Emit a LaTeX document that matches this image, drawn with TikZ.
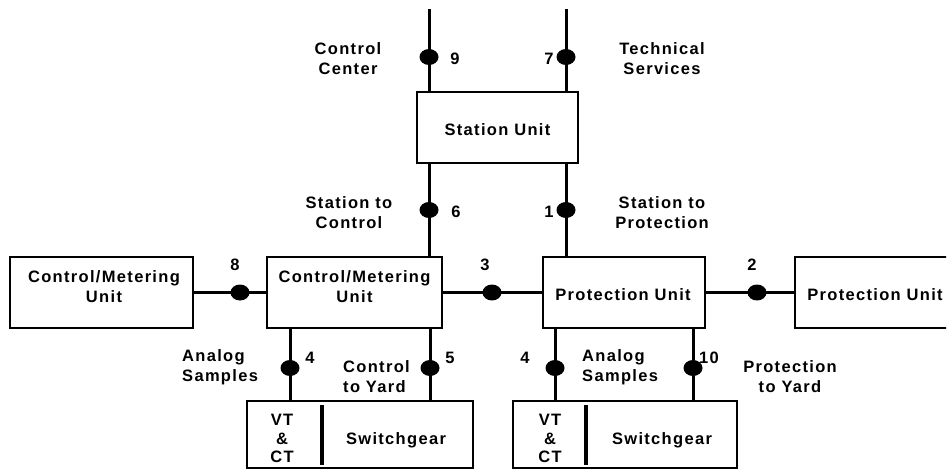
\documentclass[tikz,border=0pt]{standalone}
\usepackage{fontspec}
\setmainfont{Liberation Sans}[LetterSpace=8]
\usetikzlibrary{shapes.geometric}
\begin{document}
\begin{tikzpicture}[x=1pt,y=-1pt,
  box/.style={draw,line width=1.2pt,rectangle,inner sep=0pt},
  dot/.style={ellipse,fill=black,inner sep=0pt,minimum width=19pt,minimum height=16pt},
  wire/.style={line width=3pt},
  divider/.style={line width=4pt},
  txt/.style={font=\fontsize{16.5}{20}\selectfont\bfseries,inner sep=0pt,align=center},
  txtl/.style={font=\fontsize{16.5}{20}\selectfont\bfseries,inner sep=0pt,align=left,anchor=west},
  num/.style={font=\fontsize{16.5}{20}\selectfont\bfseries,inner sep=0pt}]
\useasboundingbox (0,0) rectangle (949,470);
\clip (0,0) rectangle (946,470);
% boxes
\node[box,minimum width=161pt,minimum height=71pt] (station) at (497.5,127.5) {};
\node[box,minimum width=183pt,minimum height=71pt] (cmL) at (101.5,292.5) {};
\node[box,minimum width=175pt,minimum height=71pt] (cmM) at (354.5,292.5) {};
\node[box,minimum width=162pt,minimum height=71pt] (protM) at (624,292.5) {};
\node[box,minimum width=180pt,minimum height=71pt] (protR) at (885,292.5) {};
\node[box,minimum width=226pt,minimum height=67pt] (sgL) at (360,434.5) {};
\node[box,minimum width=224pt,minimum height=67pt] (sgR) at (625,434.5) {};
% box texts
\node[txt] (tstation) at (497.5,130) {Station Unit};
\node[txt] (tcmL) at (104,286.5) {Control/Metering\\Unit};
\node[txt] (tcmM) at (354.5,286.5) {Control/Metering\\Unit};
\node[txt] (tprotM) at (623,294.5) {Protection Unit};
\node[txt] (tprotR) at (875,294.5) {Protection Unit};
\node[txt,font=\fontsize{16.5}{18.5}\selectfont\bfseries] (vtL) at (282,438.5) {VT\\\&\\CT};
\node[txt] (swL) at (396,440) {Switchgear};
\node[txt,font=\fontsize{16.5}{18.5}\selectfont\bfseries] (vtR) at (550,438.5) {VT\\\&\\CT};
\node[txt] (swR) at (662,440) {Switchgear};
\coordinate (dvLt) at (322,405); \coordinate (dvLb) at (322,465);
\coordinate (dvRt) at (586,405); \coordinate (dvRb) at (586,465);
\draw[divider] (dvLt) -- (dvLb);
\draw[divider] (dvRt) -- (dvRb);
% free ends
\coordinate (t9) at (429,9);
\coordinate (t7) at (566,9);
\coordinate (xa) at (290,0);
\coordinate (xb) at (430,0);
\coordinate (xc) at (555,0);
\coordinate (xd) at (693,0);
% wires
\draw[wire] (t9) -- (t9 |- station.north);
\draw[wire] (t7) -- (t7 |- station.north);
\draw[wire] (t9 |- station.south) -- (t9 |- cmM.north);
\draw[wire] (t7 |- station.south) -- (t7 |- protM.north);
\draw[wire] (cmL.east) -- (cmM.west);
\draw[wire] (cmM.east) -- (protM.west);
\draw[wire] (protM.east) -- (protR.west);
\draw[wire] (xa |- cmM.south) -- (xa |- sgL.north);
\draw[wire] (xb |- cmM.south) -- (xb |- sgL.north);
\draw[wire] (xc |- protM.south) -- (xc |- sgR.north);
\draw[wire] (xd |- protM.south) -- (xd |- sgR.north);
% dots
\node[dot] (d9) at (429,57) {};
\node[dot] (d7) at (566,57) {};
\node[dot] (d6) at (429,210) {};
\node[dot] (d1) at (566,210) {};
\node[dot] (d8) at (240,292.5) {};
\node[dot] (d3) at (492,292.5) {};
\node[dot] (d2) at (757,292.5) {};
\node[dot] (d4a) at (290,368) {};
\node[dot] (d5) at (430,368) {};
\node[dot] (d4b) at (555,368) {};
\node[dot] (d10) at (693,368) {};
% labels
\node[txt] (lcc) at (348,59) {Control\\Center};
\node[num] (n9) at (455,59) {9};
\node[num] (n7) at (549,59) {7};
\node[txt] (lts) at (662,59) {Technical\\Services};
\node[txt] (lsc) at (349,213) {Station to\\Control};
\node[num] (n6) at (456,212) {6};
\node[num] (n1) at (549,212) {1};
\node[txt] (lsp) at (662,213) {Station to\\Protection};
\node[num] (n8) at (235,265) {8};
\node[num] (n3) at (485,265) {3};
\node[num] (n2) at (752,265) {2};
\node[txtl] (las1) at (182,367) {Analog\\Samples};
\node[num] (n4a) at (310,358) {4};
\node[txtl] (lcy) at (343,377) {Control\\to Yard};
\node[num] (n5) at (450,358) {5};
\node[num] (n4b) at (525,358) {4};
\node[txtl] (las2) at (582,367) {Analog\\Samples};
\node[num] (n10) at (709,358) {10};
\node[txt] (lpy) at (790,377) {Protection\\to Yard};
\end{tikzpicture}
\end{document}
